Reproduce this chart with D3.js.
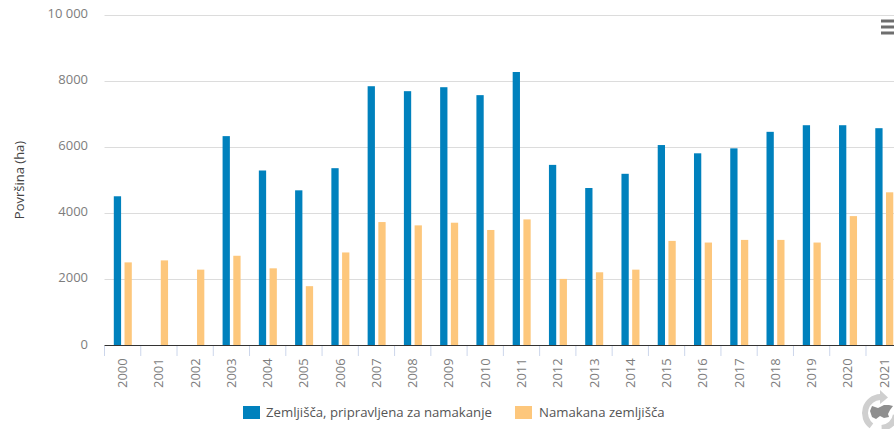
<!DOCTYPE html>
<html><head><meta charset="utf-8">
<script src="https://cdnjs.cloudflare.com/ajax/libs/d3/7.8.5/d3.min.js"></script>
<style>html,body{margin:0;padding:0;background:#fff;overflow:hidden}svg{display:block}text{font-family:"Open Sans",sans-serif}</style>
</head><body><svg id="c" width="894" height="429"></svg>
<script>
const years=["2000","2001","2002","2003","2004","2005","2006","2007","2008","2009","2010","2011","2012","2013","2014","2015","2016","2017","2018","2019","2020","2021"];
const prepared=[4500,null,null,6320,5280,4680,5350,7830,7680,7800,7560,8260,5450,4750,5180,6050,5800,5950,6450,6650,6650,6560];
const irrigated=[2500,2560,2280,2700,2320,1780,2800,3720,3620,3700,3480,3800,2000,2200,2280,3150,3100,3180,3180,3100,3900,4620];
const seriesNames=["Zemljišča, pripravljena za namakanje","Namakana zemljišča"];
const colors=["#0081bd","#fdc77c"];
const yTicks=[0,2000,4000,6000,8000,10000];
const svg=d3.select("#c");
const x=d3.scaleBand().domain(years).range([104.5,902.25]);
const y=d3.scaleLinear().domain([0,10000]).range([345,14.5]);
const inner=d3.scaleBand().domain([0,1]).range([9.3,27.3]).paddingInner(0.32);
const fmt=v=>v>=10000?d3.format(",")(v).replace(","," "):String(v);
svg.append("g").selectAll("line").data(yTicks.filter(d=>d>0)).join("line")
 .attr("x1",104.5).attr("x2",894).attr("y1",d=>Math.round(y(d))+.5).attr("y2",d=>Math.round(y(d))+.5)
 .attr("stroke","#dcdcdc").attr("stroke-width",1);
svg.append("g").selectAll("text").data(yTicks).join("text")
 .attr("x",88).attr("y",d=>y(d)+3.5).attr("text-anchor","end")
 .attr("fill","#7d7d7d").style("font-size","13px").text(fmt);
svg.append("text").attr("transform","translate(24,180) rotate(-90)").attr("text-anchor","middle")
 .attr("fill","#444").style("font-size","13px").text("Površina (ha)");
[prepared,irrigated].forEach((vals,i)=>{
 svg.append("g").selectAll("rect").data(vals.map((v,k)=>({v,k})).filter(d=>d.v!=null)).join("rect")
  .attr("x",d=>x(years[d.k])+inner(i)).attr("width",inner.bandwidth())
  .attr("y",d=>y(d.v)).attr("height",d=>y(0)-y(d.v))
  .attr("fill",colors[i]);
});
svg.append("line").attr("x1",104.5).attr("x2",894).attr("y1",345.5).attr("y2",345.5).attr("stroke","#333").attr("stroke-width",1);
svg.append("g").selectAll("line").data(years).join("line")
 .attr("x1",d=>x(d)).attr("x2",d=>x(d)).attr("y1",346).attr("y2",356).attr("stroke","#ccd6eb");
svg.append("g").selectAll("text").data(years).join("text")
 .attr("transform",d=>`translate(${x(d)+x.bandwidth()/2+4.5},388) rotate(-90)`)
 .attr("fill","#7d7d7d").style("font-size","13px").text(d=>d);
const lg=[{x:243,tx:266},{x:515,tx:539}];
seriesNames.forEach((n,i)=>{
 svg.append("rect").attr("x",lg[i].x).attr("y",406).attr("width",17).attr("height",13).attr("fill",colors[i]);
 svg.append("text").attr("x",lg[i].tx).attr("y",417).attr("fill","#555").style("font-size","13.2px").text(n);
});
[0,1,2].forEach(i=>svg.append("rect").attr("x",881).attr("y",20+i*6-.5).attr("width",13).attr("height",3).attr("fill","#6e6e6e"));
// logo: ring with arrowheads around a country silhouette
const logo=svg.append("g").attr("transform","translate(881,413)");
logo.append("path").attr("d",d3.arc()({innerRadius:13,outerRadius:19,startAngle:-2.5,endAngle:-0.05})).attr("fill","#cfcfcf");
logo.append("path").attr("d","M-1,-23 L7,-15.5 L-1,-9 Z").attr("fill","#cfcfcf");
logo.append("path").attr("d",d3.arc()({innerRadius:12,outerRadius:18,startAngle:1.7,endAngle:3.1})).attr("fill","#cfcfcf");
logo.append("path").attr("d","M-11,-2 L-9,-7 L-3,-5 L3,-8 L8,-8 L12,-7 L9,-3 L7,1 L8,4 L3,5 L-1,3 L-5,6 L-9,4 Z").attr("fill","#8f8f8f");
</script></body></html>
